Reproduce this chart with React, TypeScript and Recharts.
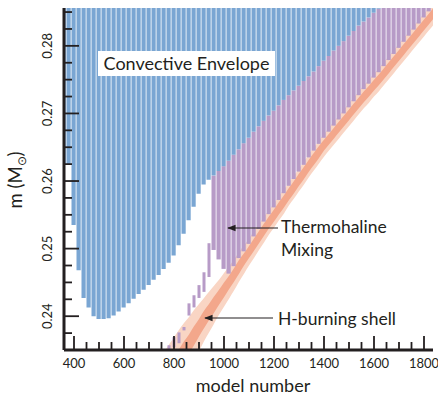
import { ComposedChart, Bar, Area, XAxis, YAxis } from 'recharts';

const X_DOMAIN = [360, 1836];
const Y_DOMAIN = [0.235, 0.2856];
const Y_TOP = 0.2856;

const xMajorTicks = [400, 600, 800, 1000, 1200, 1400, 1600, 1800];
const xMinorTicks = [450, 500, 550, 650, 700, 750, 850, 900, 950, 1050, 1100, 1150, 1250, 1300, 1350, 1450, 1500, 1550, 1650, 1700, 1750];
const yMajorTicks = [0.24, 0.25, 0.26, 0.27, 0.28];
const yMinorTicks = [0.2375, 0.2425, 0.245, 0.2475, 0.2525, 0.255, 0.2575, 0.2625, 0.265, 0.2675, 0.2725, 0.275, 0.2775, 0.2825, 0.285];

// convective envelope: lower edge (M_sun) per model
const envModels = [360, 380, 400, 420, 440, 460, 480, 500, 520, 540, 560, 580, 600, 620, 640, 660, 680, 700, 720, 740, 760, 780, 800, 820, 840, 860, 880, 900, 920, 940, 960, 980, 1000, 1020, 1040, 1060, 1080, 1100, 1120, 1140, 1160, 1180, 1200, 1220, 1240, 1260, 1280, 1300, 1320, 1340, 1360, 1380, 1400, 1420, 1440, 1460, 1480, 1500, 1520, 1540, 1560, 1580, 1600, 1620];
const envBottom = [0.2624, 0.2624, 0.2535, 0.2468, 0.2427, 0.2413, 0.24, 0.2396, 0.2396, 0.2397, 0.2401, 0.2407, 0.2413, 0.2419, 0.2426, 0.2433, 0.2439, 0.2446, 0.2454, 0.2461, 0.247, 0.2479, 0.249, 0.2505, 0.2522, 0.2542, 0.2562, 0.2581, 0.2595, 0.2602, 0.2608, 0.2615, 0.2622, 0.263, 0.2639, 0.2647, 0.2656, 0.2664, 0.2673, 0.2681, 0.2689, 0.2697, 0.2704, 0.2712, 0.272, 0.2727, 0.2734, 0.2741, 0.2748, 0.2755, 0.2762, 0.277, 0.2778, 0.2785, 0.2793, 0.28, 0.2807, 0.2815, 0.2822, 0.283, 0.2836, 0.2842, 0.2849, 0.2855];

// H-burning shell: centre and half widths
const shellModels = [760, 780, 800, 820, 840, 860, 880, 900, 920, 940, 960, 980, 1000, 1020, 1040, 1060, 1080, 1100, 1120, 1140, 1160, 1180, 1200, 1220, 1240, 1260, 1280, 1300, 1320, 1340, 1360, 1380, 1400, 1420, 1440, 1460, 1480, 1500, 1520, 1540, 1560, 1580, 1600, 1620, 1640, 1660, 1680, 1700, 1720, 1740, 1760, 1780, 1800, 1820, 1840];
const shellMid = [0.2302, 0.2313, 0.2324, 0.2336, 0.2348, 0.2359, 0.2371, 0.2383, 0.2395, 0.2406, 0.2417, 0.2428, 0.2439, 0.245, 0.2461, 0.2473, 0.2484, 0.2495, 0.2506, 0.2517, 0.2528, 0.2539, 0.2549, 0.256, 0.257, 0.2581, 0.2591, 0.2602, 0.2612, 0.2623, 0.2633, 0.2643, 0.2653, 0.2662, 0.2671, 0.268, 0.2689, 0.2698, 0.2707, 0.2716, 0.2725, 0.2733, 0.2742, 0.275, 0.2759, 0.2768, 0.2777, 0.2786, 0.2795, 0.2804, 0.2813, 0.2822, 0.2831, 0.284, 0.2849];
const shellHalo = [0.0045, 0.0045, 0.0045, 0.0044, 0.0042, 0.004, 0.0038, 0.0035, 0.0032, 0.003, 0.0028, 0.0026, 0.0025, 0.0024, 0.0023, 0.0022, 0.0021, 0.002, 0.002, 0.0019, 0.0019, 0.0018, 0.0018, 0.0018, 0.0018, 0.0017, 0.0017, 0.0017, 0.0017, 0.0017, 0.0017, 0.0017, 0.0017, 0.0017, 0.0017, 0.0017, 0.0017, 0.0017, 0.0017, 0.0017, 0.0017, 0.0017, 0.0017, 0.0017, 0.0017, 0.0017, 0.0017, 0.0017, 0.0017, 0.0017, 0.0017, 0.0017, 0.0017, 0.0017, 0.0017];
const shellCore = [0.0016, 0.0016, 0.0016, 0.0015, 0.0015, 0.0014, 0.0014, 0.0013, 0.0013, 0.0012, 0.0012, 0.0011, 0.0011, 0.001, 0.001, 0.001, 0.0009, 0.0009, 0.0009, 0.0009, 0.0009, 0.0009, 0.0009, 0.0009, 0.0009, 0.0009, 0.0009, 0.0009, 0.0009, 0.0009, 0.0009, 0.0009, 0.0008, 0.0008, 0.0008, 0.0008, 0.0008, 0.0008, 0.0008, 0.0008, 0.0008, 0.0008, 0.0008, 0.0008, 0.0008, 0.0008, 0.0008, 0.0008, 0.0008, 0.0008, 0.0008, 0.0008, 0.0008, 0.0008, 0.0008];

// thermohaline mixing: isolated early episodes
const thermoEarlyModels = [780, 800, 820, 840, 860, 880, 900, 920, 940];
const thermoEarlyBottom = [0.235, 0.2354, 0.236, 0.2379, 0.2401, 0.2413, 0.2427, 0.2436, 0.2458];
const thermoEarlyTop = [0.2357, 0.2369, 0.2376, 0.2384, 0.2419, 0.2431, 0.2446, 0.2465, 0.2508];

// thermohaline zone: first models stop short of the shell
const thermoModels = shellModels.filter((m) => m >= 960);
const thermoShortModels = [960, 980, 1000];
const thermoShortBottom = [0.2498, 0.2484, 0.247];

const shellData = shellModels.map((m, i) => ({
  x: m,
  halo: [shellMid[i] - shellHalo[i], shellMid[i] + shellHalo[i]],
  core: [shellMid[i] - shellCore[i], shellMid[i] + shellCore[i]],
}));

const rows: Record<number, any> = {};
const row = (m: number) => (rows[m] = rows[m] || { x: m });
envModels.forEach((m, i) => {
  row(m).env = [envBottom[i], Y_TOP];
});
thermoModels.forEach((m) => {
  const i = shellModels.indexOf(m);
  const j = envModels.indexOf(m);
  const k = thermoShortModels.indexOf(m);
  const top = j >= 0 ? envBottom[j] : Y_TOP;
  const bottom = k >= 0 ? thermoShortBottom[k] : shellMid[i] + shellCore[i] + 0.0003;
  row(m).thermo = [bottom, top];
});
thermoEarlyModels.forEach((m, i) => {
  row(m).early = [thermoEarlyBottom[i], thermoEarlyTop[i]];
});
const data = Object.values(rows).sort((a, b) => a.x - b.x);

const INK = '#231f20';
const FONT = 'Lato, "Open Sans", sans-serif';

const BottomTick = ({ x, y, payload }: any) => {
  const major = xMajorTicks.includes(payload.value);
  return (
    <g>
      <line x1={x} x2={x} y1={y} y2={y - (major ? 14 : 8)} stroke={INK} strokeWidth={1.8} />
      {major && (
        <text x={x} y={y + 18} textAnchor="middle" fontSize={13} fill={INK} fontFamily={FONT}>
          {payload.value}
        </text>
      )}
    </g>
  );
};

const TopTick = ({ x, y, payload }: any) => {
  const major = xMajorTicks.includes(payload.value);
  return <line x1={x} x2={x} y1={y} y2={y + (major ? 14 : 8)} stroke={INK} strokeWidth={1.8} />;
};

const LeftTick = ({ x, y, payload }: any) => {
  const major = yMajorTicks.includes(payload.value);
  return (
    <g>
      <line x1={x} x2={x + (major ? 15 : 8)} y1={y} y2={y} stroke={INK} strokeWidth={1.8} />
      {major && (
        <text
          x={x - 12}
          y={y}
          textAnchor="middle"
          fontSize={13}
          fill={INK}
          fontFamily={FONT}
          transform={`rotate(-90 ${x - 12} ${y})`}
        >
          {payload.value.toFixed(2)}
        </text>
      )}
    </g>
  );
};

const RightTick = ({ x, y, payload }: any) => {
  const major = yMajorTicks.includes(payload.value);
  return <line x1={x} x2={x - (major ? 15 : 8)} y1={y} y2={y} stroke={INK} strokeWidth={1.8} />;
};

const frame = { stroke: INK, strokeWidth: 3 };
const xTicks = [...xMajorTicks, ...xMinorTicks].sort((a, b) => a - b);
const yTicks = [...yMajorTicks, ...yMinorTicks].sort((a, b) => a - b);

export default function App() {
  return (
    <div style={{ position: 'absolute', left: 0, top: 0, width: 438, height: 398, background: '#fff' }}>
      <ComposedChart width={438} height={398} data={data} margin={{ top: 8, right: 5, bottom: 0, left: 0 }}>
        <XAxis
          xAxisId="bottom"
          dataKey="x"
          type="number"
          domain={X_DOMAIN}
          allowDataOverflow
          ticks={xTicks}
          interval={0}
          tickSize={0}
          tickMargin={0}
          tick={<BottomTick />}
          axisLine={frame}
          height={48}
        />
        <XAxis
          xAxisId="top"
          orientation="top"
          dataKey="x"
          type="number"
          domain={X_DOMAIN}
          allowDataOverflow
          ticks={xTicks}
          interval={0}
          tickSize={0}
          tickMargin={0}
          tick={<TopTick />}
          axisLine={frame}
          height={0}
        />
        <XAxis xAxisId="early" dataKey="x" type="number" domain={X_DOMAIN} allowDataOverflow hide />
        <YAxis
          yAxisId="left"
          type="number"
          domain={Y_DOMAIN}
          allowDataOverflow
          ticks={yTicks}
          interval={0}
          tickSize={0}
          tickMargin={0}
          tick={<LeftTick />}
          axisLine={frame}
          width={64}
        />
        <YAxis
          yAxisId="right"
          orientation="right"
          type="number"
          domain={Y_DOMAIN}
          allowDataOverflow
          ticks={yTicks}
          interval={0}
          tickSize={0}
          tickMargin={0}
          tick={<RightTick />}
          axisLine={frame}
          width={0}
        />
        <Area
          data={shellData}
          xAxisId="bottom"
          yAxisId="left"
          dataKey="halo"
          type="monotone"
          stroke="none"
          fill="#f9d5c4"
          fillOpacity={1}
          isAnimationActive={false}
        />
        <Bar xAxisId="top" yAxisId="left" dataKey="thermo" fill="#b79bc7" barSize={4.2} isAnimationActive={false} />
        <Bar xAxisId="early" yAxisId="left" dataKey="early" fill="#b79bc7" barSize={3} isAnimationActive={false} />
        <Area
          data={shellData}
          xAxisId="bottom"
          yAxisId="left"
          dataKey="core"
          type="monotone"
          stroke="none"
          fill="#f3a78b"
          fillOpacity={1}
          isAnimationActive={false}
        />
        <Bar xAxisId="bottom" yAxisId="left" dataKey="env" fill="#7aa6d3" barSize={4.2} isAnimationActive={false} />
      </ComposedChart>
      <svg width={438} height={398} style={{ position: 'absolute', left: 0, top: 0, pointerEvents: 'none' }} fontFamily={FONT}>
        <defs>
          <marker id="ah" viewBox="0 0 10 10" refX="9" refY="5" markerWidth="7" markerHeight="7" orient="auto-start-reverse">
            <path d="M0,1 L10,5 L0,9 z" fill={INK} />
          </marker>
        </defs>
        <rect x={98} y={51} width={177} height={25} fill="#fff" />
        <text x={186.5} y={70} textAnchor="middle" fontSize={18} fill={INK}>
          Convective Envelope
        </text>
        <text x={281} y={233} fontSize={17.5} fill={INK}>Thermohaline</text>
        <text x={281} y={256} fontSize={17.5} fill={INK}>Mixing</text>
        <line x1={278} y1={228} x2={228} y2={228} stroke={INK} strokeWidth={1.2} markerEnd="url(#ah)" />
        <text x={278} y={325} fontSize={17.5} fill={INK}>H-burning shell</text>
        <line x1={273} y1={318} x2={205} y2={318} stroke={INK} strokeWidth={1.2} markerEnd="url(#ah)" />
        <text x={253} y={392} textAnchor="middle" fontSize={18} fill={INK}>model number</text>
        <text x={22} y={180} textAnchor="middle" fontSize={18.5} fill={INK} transform="rotate(-90 22 180)">
          m (M<tspan fontSize={12} dy={4}>⊙</tspan><tspan dy={-4}>)</tspan>
        </text>
      </svg>
    </div>
  );
}
